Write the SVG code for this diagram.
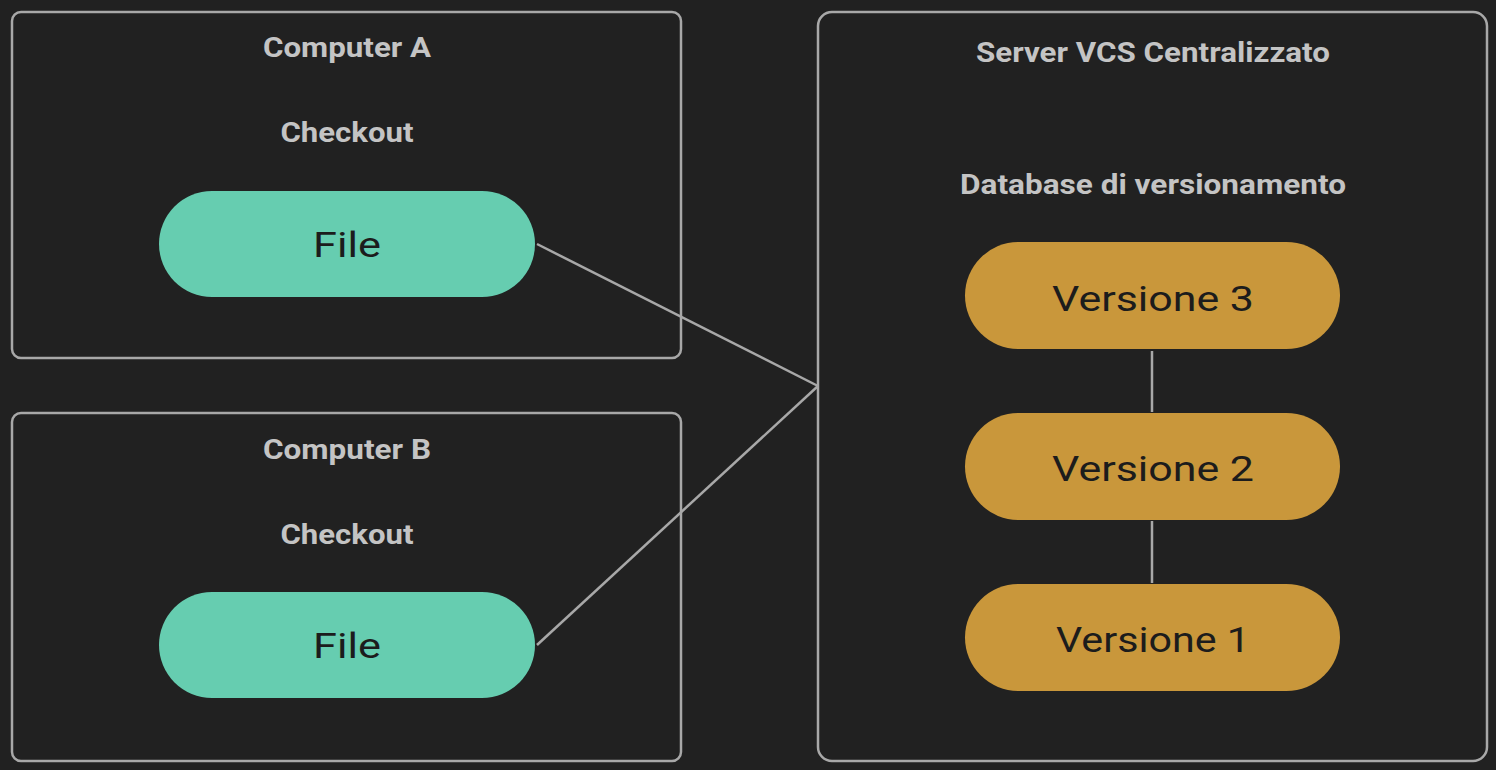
<svg xmlns="http://www.w3.org/2000/svg" width="1496" height="770" viewBox="0 0 1496 770">
<style>
.box{fill:#212121;stroke:#a8a8a8;stroke-width:2.5}
.title{font-family:Roboto,"Liberation Sans",sans-serif;font-weight:bold;font-size:27px;fill:#c4c4c4;text-anchor:middle}
.lbl{font-family:Roboto,"Liberation Sans",sans-serif;font-size:35px;fill:#1c1c1c;text-anchor:middle}
.file{fill:#66cdb0}
.ver{fill:#c9973b}
.conn{stroke:#a8a8a8;stroke-width:2.5;fill:none}
</style>
<rect width="1496" height="770" fill="#212121"/>
<g id="computerA">
<rect class="box" x="12" y="12" width="669" height="346" rx="9"/>
<text class="title" x="347" y="57" textLength="168" lengthAdjust="spacingAndGlyphs">Computer A</text>
<text class="title" x="347" y="142" textLength="133" lengthAdjust="spacingAndGlyphs">Checkout</text>
</g>
<g id="fileA">
<rect class="file" x="159" y="191" width="376" height="106" rx="53"/>
<text class="lbl" x="347" y="257" textLength="68" lengthAdjust="spacingAndGlyphs">File</text>
</g>
<g id="computerB">
<rect class="box" x="12" y="413" width="669" height="348" rx="9"/>
<text class="title" x="347" y="459" textLength="168" lengthAdjust="spacingAndGlyphs">Computer B</text>
<text class="title" x="347" y="544" textLength="133" lengthAdjust="spacingAndGlyphs">Checkout</text>
</g>
<g id="fileB">
<rect class="file" x="159" y="592" width="376" height="106" rx="53"/>
<text class="lbl" x="347" y="658" textLength="68" lengthAdjust="spacingAndGlyphs">File</text>
</g>
<g id="server">
<rect class="box" x="818" y="12" width="669" height="749" rx="14"/>
<text class="title" x="1153" y="62" textLength="354" lengthAdjust="spacingAndGlyphs">Server VCS Centralizzato</text>
<text class="title" x="1153" y="194" textLength="386" lengthAdjust="spacingAndGlyphs">Database di versionamento</text>
</g>
<g id="connectors">
<line class="conn" x1="537" y1="244" x2="818" y2="386"/>
<line class="conn" x1="537" y1="645" x2="818" y2="386"/>
<line class="conn" x1="1152" y1="351" x2="1152" y2="412"/>
<line class="conn" x1="1152" y1="521" x2="1152" y2="583"/>
</g>
<g id="versione3">
<rect class="ver" x="965" y="242" width="375" height="107" rx="53.5"/>
<text class="lbl" x="1153" y="311" textLength="202" lengthAdjust="spacingAndGlyphs">Versione 3</text>
</g>
<g id="versione2">
<rect class="ver" x="965" y="413" width="375" height="107" rx="53.5"/>
<text class="lbl" x="1153" y="481" textLength="202" lengthAdjust="spacingAndGlyphs">Versione 2</text>
</g>
<g id="versione1">
<rect class="ver" x="965" y="584" width="375" height="107" rx="53.5"/>
<text class="lbl" x="1153" y="652" textLength="194" lengthAdjust="spacingAndGlyphs">Versione 1</text>
</g>
</svg>
